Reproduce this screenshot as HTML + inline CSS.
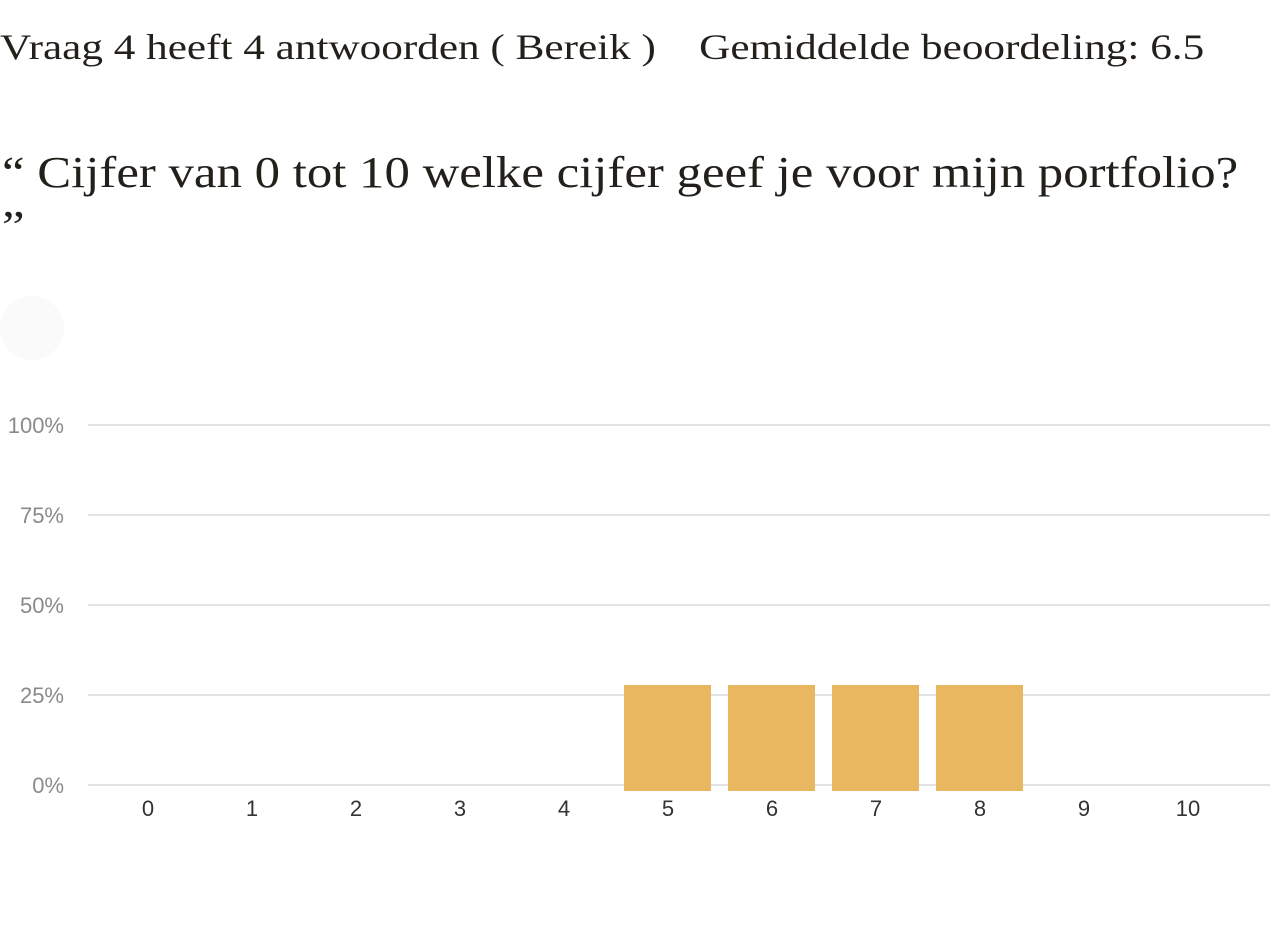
<!DOCTYPE html>
<html><head><meta charset="utf-8"><style>
body{margin:0;width:1270px;height:928px;background:#fff;overflow:hidden;position:relative;font-family:"Liberation Serif",serif;color:#231f1a}
.h1{position:absolute;left:0;top:26px;font-size:36px;white-space:nowrap;transform-origin:0 0;transform:scaleX(1.2)}
.q{position:absolute;left:2px;top:146px;font-size:44px;line-height:54px;white-space:nowrap;transform-origin:0 0;transform:scaleX(1.155)}
</style></head><body>
<div class="h1">Vraag 4 heeft 4 antwoorden ( Bereik )&nbsp;&nbsp;&nbsp;&nbsp;Gemiddelde beoordeling: 6.5</div>
<div class="q">“ Cijfer van 0 tot 10 welke cijfer geef je voor mijn portfolio?<br>”</div>
<svg id="chart" width="1270" height="928" style="position:absolute;left:0;top:0">
<circle cx="32" cy="328" r="32" fill="#fafafa"/>
</svg>
<script>
const categories=["0","1","2","3","4","5","6","7","8","9","10"];
const values=[0,0,0,0,0,25,25,25,25,0,0];
const yTicks=[0,25,50,75,100];
const yTickLabels=["0%","25%","50%","75%","100%"];
const svg=document.getElementById('chart');
const NS='http://www.w3.org/2000/svg';
const y0=785,y100=425;
const yScale=v=>y0-(y0-y100)*v/100;
const xScale=i=>148+i*104;
function mk(t,a){const e=document.createElementNS(NS,t);for(const k in a)e.setAttribute(k,a[k]);svg.appendChild(e);return e;}
yTicks.forEach((t,i)=>{
  const l=mk('line',{x1:88,x2:1270,y1:yScale(t),y2:yScale(t),stroke:'#d9d9d9','stroke-width':1.5});
  
  
  const tx=mk('text',{x:64,y:yScale(t)+8,'text-anchor':'end','font-family':'Liberation Sans, sans-serif','font-size':22,fill:'#8a8a8a'});
  tx.textContent=yTickLabels[i];
  
  
});
categories.forEach((c,i)=>{
  if(values[i]>0){
    const top=yScale(values[i])-10;
    const r=mk('rect',{x:xScale(i)-44,y:top,width:87,height:y0+6-top,fill:'#e8b75f'});
    
    
  }
  const tx=mk('text',{x:xScale(i),y:816,'text-anchor':'middle','font-family':'Liberation Sans, sans-serif','font-size':22,fill:'#333'});
  tx.textContent=c;
  
  
});
</script>
</body></html>
